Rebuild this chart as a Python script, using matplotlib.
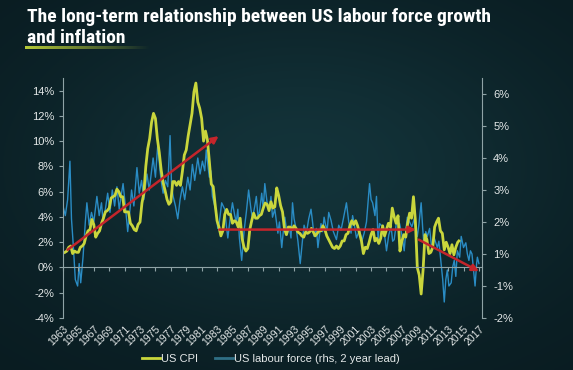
import numpy as np
import matplotlib
matplotlib.use("Agg")
import matplotlib.pyplot as plt
from matplotlib.lines import Line2D
from matplotlib import font_manager

# US CPI, year-on-year % (left axis)
cpi_years = [1963.25, 1963.5, 1963.75, 1964.0, 1964.25, 1964.5, 1964.75, 1965.0, 1965.25, 1965.5,
             1965.75, 1966.0, 1966.25, 1966.5, 1966.75, 1967.0, 1967.25, 1967.5, 1967.75, 1968.0,
             1968.25, 1968.5, 1968.75, 1969.0, 1969.25, 1969.5, 1969.75, 1970.0, 1970.25, 1970.5,
             1970.75, 1971.0, 1971.25, 1971.5, 1971.75, 1972.0, 1972.25, 1972.5, 1972.75, 1973.0,
             1973.25, 1973.5, 1973.75, 1974.0, 1974.25, 1974.5, 1974.75, 1975.0, 1975.25, 1975.5,
             1975.75, 1976.0, 1976.25, 1976.5, 1976.75, 1977.0, 1977.25, 1977.5, 1977.75, 1978.0,
             1978.25, 1978.5, 1978.75, 1979.0, 1979.25, 1979.5, 1979.75, 1980.0, 1980.25, 1980.5,
             1980.75, 1981.0, 1981.25, 1981.5, 1981.75, 1982.0, 1982.25, 1982.5, 1982.75, 1983.0,
             1983.25, 1983.5, 1983.75, 1984.0, 1984.25, 1984.5, 1984.75, 1985.0, 1985.25, 1985.5,
             1985.75, 1986.0, 1986.25, 1986.5, 1986.75, 1987.0, 1987.25, 1987.5, 1987.75, 1988.0,
             1988.25, 1988.5, 1988.75, 1989.0, 1989.25, 1989.5, 1989.75, 1990.0, 1990.25, 1990.5,
             1990.75, 1991.0, 1991.25, 1991.5, 1991.75, 1992.0, 1992.25, 1992.5, 1992.75, 1993.0,
             1993.25, 1993.5, 1993.75, 1994.0, 1994.25, 1994.5, 1994.75, 1995.0, 1995.25, 1995.5,
             1995.75, 1996.0, 1996.25, 1996.5, 1996.75, 1997.0, 1997.25, 1997.5, 1997.75, 1998.0,
             1998.25, 1998.5, 1998.75, 1999.0, 1999.25, 1999.5, 1999.75, 2000.0, 2000.25, 2000.5,
             2000.75, 2001.0, 2001.25, 2001.5, 2001.75, 2002.0, 2002.25, 2002.5, 2002.75, 2003.0,
             2003.25, 2003.5, 2003.75, 2004.0, 2004.25, 2004.5, 2004.75, 2005.0, 2005.25, 2005.5,
             2005.75, 2006.0, 2006.25, 2006.5, 2006.75, 2007.0, 2007.25, 2007.5, 2007.75, 2008.0,
             2008.25, 2008.5, 2008.75, 2009.0, 2009.25, 2009.5, 2009.75, 2010.0, 2010.25, 2010.5,
             2010.75, 2011.0, 2011.25, 2011.5, 2011.75, 2012.0, 2012.25, 2012.5, 2012.75, 2013.0,
             2013.25, 2013.5, 2013.75, 2014.0, 2014.25, 2014.4]
cpi_values = [1.2, 1.3, 1.6, 1.7, 1.1, 1.3, 1.2, 1.2, 1.6, 1.7,
              1.9, 2.5, 2.9, 3.0, 3.8, 3.4, 2.4, 2.7, 2.9, 3.5,
              3.9, 4.4, 4.5, 4.7, 5.5, 5.6, 5.7, 6.2, 6.0, 5.6,
              5.6, 4.4, 4.4, 4.4, 3.5, 3.3, 3.0, 2.9, 3.4, 3.6,
              5.1, 5.9, 8.0, 9.4, 10.2, 11.5, 12.2, 11.8, 10.2, 9.1,
              7.7, 6.7, 6.1, 5.4, 5.0, 5.2, 6.8, 6.8, 6.5, 6.8,
              6.5, 7.6, 8.9, 9.3, 10.4, 11.3, 12.2, 13.9, 14.6, 13.1,
              12.6, 11.8, 10.0, 10.8, 10.1, 8.4, 6.6, 6.4, 5.0, 3.7,
              3.2, 2.5, 2.9, 4.2, 4.6, 4.2, 4.2, 3.5, 3.7, 3.6,
              3.2, 3.9, 2.3, 1.6, 1.3, 1.5, 3.0, 3.7, 4.3, 3.9,
              3.9, 4.1, 4.2, 4.7, 5.1, 5.0, 4.5, 5.2, 4.7, 4.8,
              6.3, 5.7, 4.9, 4.4, 3.1, 2.6, 3.2, 3.2, 3.0, 3.3,
              3.1, 2.8, 2.7, 2.5, 2.4, 2.8, 2.7, 2.8, 3.1, 2.8,
              2.5, 2.7, 2.9, 2.9, 3.3, 3.0, 2.5, 2.2, 1.9, 1.6,
              1.5, 1.7, 1.5, 1.7, 2.1, 2.1, 2.6, 2.7, 3.3, 3.7,
              3.4, 3.7, 3.3, 2.7, 2.1, 1.1, 1.6, 1.5, 2.0, 2.6,
              3.0, 2.1, 2.3, 1.9, 2.3, 3.3, 2.5, 3.0, 3.5, 3.2,
              4.7, 4.0, 3.5, 4.1, 1.3, 2.1, 2.6, 2.4, 3.5, 4.3,
              3.9, 5.6, 3.7, 0.0, -0.6, -2.1, -0.2, 2.6, 2.2, 1.1,
              1.2, 1.6, 3.2, 3.6, 3.9, 2.9, 2.7, 1.4, 2.0, 1.6,
              1.1, 1.8, 1.0, 1.6, 2.0, 2.1]

# US labour force growth, year-on-year %, shifted by a 2 year lead (right axis)
lab_years = [1963.0, 1963.3, 1963.6, 1963.9, 1964.1, 1964.3, 1964.6, 1964.9, 1965.1, 1965.3,
             1965.6, 1965.9, 1966.1, 1966.4, 1966.7, 1967.0, 1967.4, 1967.7, 1968.0, 1968.2,
             1968.5, 1968.8, 1969.1, 1969.4, 1969.7, 1970.0, 1970.3, 1970.6, 1970.8, 1971.1,
             1971.4, 1971.7, 1971.9, 1972.2, 1972.6, 1972.9, 1973.2, 1973.5, 1973.9, 1974.2,
             1974.5, 1974.7, 1975.0, 1975.3, 1975.6, 1975.8, 1976.0, 1976.3, 1976.6, 1976.9,
             1977.1, 1977.3, 1977.6, 1977.9, 1978.2, 1978.5, 1978.8, 1979.2, 1979.5, 1979.8,
             1980.1, 1980.5, 1980.8, 1981.1, 1981.4, 1981.6, 1981.8, 1982.0, 1982.2, 1982.4,
             1982.7, 1982.9, 1983.1, 1983.3, 1983.6, 1984.0, 1984.2, 1984.4, 1984.7, 1985.0,
             1985.3, 1985.5, 1985.7, 1985.9, 1986.2, 1986.5, 1986.8, 1987.1, 1987.4, 1987.6,
             1987.9, 1988.1, 1988.3, 1988.5, 1988.8, 1989.0, 1989.2, 1989.5, 1989.8, 1990.0,
             1990.2, 1990.5, 1990.9, 1991.1, 1991.4, 1991.6, 1991.8, 1992.1, 1992.4, 1992.6,
             1992.8, 1993.0, 1993.3, 1993.5, 1993.8, 1994.1, 1994.3, 1994.6, 1994.9, 1995.2,
             1995.4, 1995.6, 1995.9, 1996.1, 1996.3, 1996.5, 1996.7, 1996.9, 1997.1, 1997.3,
             1997.5, 1997.8, 1998.1, 1998.5, 1998.8, 1999.1, 1999.4, 1999.8, 2000.1, 2000.4,
             2000.6, 2000.8, 2001.1, 2001.5, 2001.8, 2002.1, 2002.4, 2002.8, 2003.0, 2003.2,
             2003.5, 2003.7, 2003.9, 2004.1, 2004.5, 2004.8, 2005.0, 2005.3, 2005.6, 2005.8,
             2006.0, 2006.3, 2006.7, 2007.0, 2007.3, 2007.5, 2007.7, 2008.0, 2008.3, 2008.6,
             2009.0, 2009.2, 2009.5, 2009.7, 2009.9, 2010.1, 2010.3, 2010.6, 2010.9, 2011.2,
             2011.6, 2011.8, 2012.1, 2012.3, 2012.5, 2012.7, 2012.9, 2013.1, 2013.4, 2013.6,
             2013.8, 2014.0, 2014.2, 2014.5, 2014.7, 2015.0, 2015.3, 2015.5, 2015.7, 2015.9,
             2016.1, 2016.3, 2016.5, 2016.7, 2016.8, 2017.0]
lab_growth = [2.0, 1.7, 2.2, 3.4, 1.6, 0.9, -0.3, -0.5, 0.2, -0.4,
              0.4, 1.5, 2.1, 1.4, 1.8, 1.5, 2.3, 1.7, 2.1, 1.5,
              1.9, 2.4, 1.8, 2.5, 2.0, 2.6, 1.9, 2.4, 2.7, 2.0,
              1.2, 1.9, 2.5, 2.0, 3.2, 2.4, 2.8, 2.2, 3.0, 2.5,
              3.1, 3.5, 2.9, 3.9, 3.1, 2.7, 2.4, 2.8, 2.6, 4.2,
              2.6, 2.3, 2.0, 1.6, 2.2, 2.6, 2.2, 2.9, 2.5, 3.3,
              2.8, 3.5, 3.0, 3.4, 3.1, 3.75, 3.3, 2.9, 3.1, 2.3,
              2.0, 1.8, 1.3, 1.5, 2.1, 1.9, 1.4, 1.0, 1.6, 2.1,
              1.7, 1.5, 1.9, 1.0, 0.3, 1.2, 1.8, 2.5, 1.9, 1.6,
              2.0, 2.3, 1.7, 1.8, 2.4, 1.9, 2.7, 2.1, 1.9, 2.3,
              1.65, 1.9, 1.15, 1.5, 0.7, 1.2, 1.65, 1.1, 1.35, 1.0,
              2.1, 1.6, 1.25, 0.9, 0.2, 0.95, 1.4, 1.15, 1.6, 1.9,
              1.5, 1.05, 1.3, 0.7, 1.1, 1.45, 1.2, 1.65, 1.4, 1.25,
              1.8, 1.55, 1.2, 0.95, 1.4, 1.25, 1.6, 2.1, 1.5, 1.15,
              1.7, 1.45, 1.0, 1.25, 0.9, 1.15, 1.5, 2.7, 2.2, 2.1,
              1.7, 2.3, 0.95, 1.45, 1.35, 1.0, 0.6, 1.1, 1.35, 0.9,
              0.95, 1.5, 1.45, 1.1, 0.6, 1.2, 1.65, 1.5, 1.35, 1.6,
              1.05, 1.4, 2.1, 1.3, 0.7, 1.2, 1.05, 1.3, 0.6, 1.0,
              0.7, 0.9, 0.2, -0.3, -1.0, -0.3, 0.0, -0.5, -0.4, 0.1,
              0.3, -0.2, 0.6, 0.4, 1.05, 0.7, 0.85, 0.5, 0.3, 0.6,
              0.5, 0.0, -0.5, 0.2, 0.4, 0.2]

# trend arrows drawn by the author (year, CPI %)
trend_start_x = [1963.6, 1983.3, 2009.2]
trend_start_y = [1.4, 3.0, 2.2]
trend_end_x = [1983.2, 2008.8, 2017.0]
trend_end_y = [10.4, 3.0, -0.3]

year_ticks = list(range(1963, 2018, 2))
left_ticks = [-4, -2, 0, 2, 4, 6, 8, 10, 12, 14]
right_ticks = [-1.5, -0.5, 0.5, 1.5, 2.5, 3.5, 4.5, 5.5]
right_labels = ["-2%", "-1%", "1%", "2%", "3%", "4%", "5%", "6%"]

CPI_COL = "#c9d63c"
LAB_COL = "#2a8cc4"
RED = "#c4252b"
TXT = "#e4e8e8"
AXC = "#8fa3a6"

plt.rcParams["font.family"] = ["Liberation Sans", "DejaVu Sans"]

# look for a narrow bold face for the title, like Arial Narrow in the original
title_family = "Liberation Sans"
title_stretch = "normal"
for f in font_manager.fontManager.ttflist:
    if f.name in ("Liberation Sans Narrow", "DejaVu Sans Condensed", "Roboto Condensed",
                  "Open Sans Condensed"):
        title_family = f.name
        break
    if f.stretch in ("condensed", "semi-condensed", 600, 700) and f.name == "DejaVu Sans":
        title_family = "DejaVu Sans"
        title_stretch = "condensed"

fig = plt.figure(figsize=(5.73, 3.70), dpi=100)

# dark teal background with a soft glow in the middle
bg = fig.add_axes([0, 0, 1, 1], zorder=-10)
gx, gy = np.meshgrid(np.linspace(-1, 1, 300), np.linspace(-1, 1, 200))
glow = np.exp(-((gx - 0.05) ** 2 / 0.9 + (gy + 0.1) ** 2 / 0.8))
c0 = np.array([0.035, 0.105, 0.125])
c1 = np.array([0.075, 0.2, 0.225])
img = c0 + (c1 - c0) * glow[..., None]
bg.imshow(img, aspect="auto", extent=[0, 1, 0, 1])
bg.axis("off")

ax = fig.add_axes([63 / 573, 52 / 370, 419 / 573, 240 / 370])
ax2 = ax.twinx()
ax.set_zorder(ax2.get_zorder() + 1)
ax.patch.set_visible(False)
ax2.patch.set_visible(False)

ax2.plot(lab_years, lab_growth, color=LAB_COL, lw=1.0)
ax.plot(cpi_years, cpi_values, color=CPI_COL, lw=2.0)

for x0, y0, x1, y1 in zip(trend_start_x, trend_start_y, trend_end_x, trend_end_y):
    ax.annotate("", xy=(x1, y1), xytext=(x0, y0),
                arrowprops=dict(arrowstyle="-|>", color=RED, lw=1.8, mutation_scale=10,
                                shrinkA=0, shrinkB=0))

ax.set_xlim(1963, 2017.4)
ax.set_ylim(-4, 15)
ax2.set_ylim(-1.5, 6.0)

ax.set_yticks(left_ticks)
ax.set_yticklabels([f"{v}%" for v in left_ticks])
ax2.set_yticks(right_ticks)
ax2.set_yticklabels(right_labels)

for a in (ax, ax2):
    for s in a.spines.values():
        s.set_visible(False)
ax.spines["left"].set_visible(True)
ax.spines["left"].set_color(AXC)
ax2.spines["right"].set_visible(True)
ax2.spines["right"].set_color(AXC)
ax.spines["bottom"].set_visible(True)
ax.spines["bottom"].set_position(("data", 0))
ax.spines["bottom"].set_color(AXC)

ax.tick_params(axis="y", colors=AXC, labelcolor=TXT, labelsize=8, length=3)
ax2.tick_params(axis="y", colors=AXC, labelcolor=TXT, labelsize=8, length=3, pad=5)
ax.set_xticks(year_ticks)
ax.tick_params(axis="x", colors=AXC, length=3, labelbottom=False)

sec = ax.secondary_xaxis(0.0)
sec.set_xticks(year_ticks)
sec.set_xticklabels([str(y) for y in year_ticks], rotation=45, ha="right",
                    rotation_mode="anchor", color=TXT, fontsize=7.5)
sec.tick_params(axis="x", length=0, pad=4)
sec.spines["bottom"].set_visible(False)

# title: fit the first line to the reference width
t1 = fig.text(27 / 573, 1 - 22 / 370, "The long-term relationship between US labour force growth",
              color="white", fontsize=16, fontweight="bold", family=title_family,
              fontstretch=title_stretch, va="baseline")
fig.canvas.draw()
w = t1.get_window_extent().width
size = min(16 * 463 / w, 16.5)
t1.set_fontsize(size)
fig.text(27 / 573, 1 - 43 / 370, "and inflation",
         color="white", fontsize=size, fontweight="bold", family=title_family,
         fontstretch=title_stretch, va="baseline")

# underline fading from lime to background
ul = fig.add_axes([25 / 573, 1 - 49 / 370, 125 / 573, 3 / 370])
ramp = np.linspace(1, 0, 200)
ul_img = np.ones((1, 200, 4))
ul_img[0, :, :3] = np.array([0.72, 0.80, 0.22])
ul_img[0, :, 3] = ramp
ul.imshow(ul_img, aspect="auto")
ul.axis("off")

handles = [Line2D([], [], color=CPI_COL, lw=2),
           Line2D([], [], color="#2f6f85", lw=2)]
fig.legend(handles, ["US CPI", "US labour force (rhs, 2 year lead)"],
           loc="center", bbox_to_anchor=(271 / 573, 1 - 359 / 370), ncol=2, frameon=False,
           fontsize=8, labelcolor=TXT, handlelength=1.6, handletextpad=0.1, columnspacing=1.5)

fig.savefig("out.png", dpi=100, facecolor=fig.get_facecolor())
